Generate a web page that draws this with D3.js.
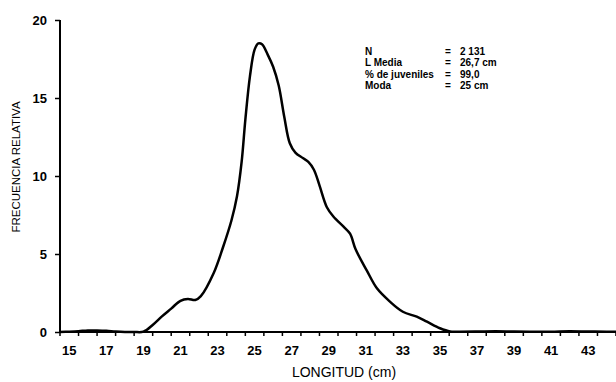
<!DOCTYPE html>
<html>
<head>
<meta charset="utf-8">
<script src="https://cdn.jsdelivr.net/npm/d3@7"></script>
<style>
  html, body { margin: 0; padding: 0; background: #fff; }
  svg { display: block; }
  text { font-family: "Liberation Sans", Arial, Helvetica, sans-serif; fill: #000; }
</style>
</head>
<body>
<svg id="chart" width="616" height="382"></svg>
<script>
// ---- data ----
const lengths = [14.5,15,15.5,16,16.5,17,17.5,18,18.5,19,19.5,20,20.5,21,21.4,21.8,22.1,22.8,23.3,23.75,24.05,24.3,24.5,24.75,25,25.2,25.4,25.7,26,26.3,26.6,26.9,27.2,27.6,27.9,28.2,28.5,28.9,29.25,29.8,30.15,30.45,31.05,31.6,32.3,33,33.75,34.3,35,35.55,36,37,38,39,40,41,42,43,44,44.5];
const freqs   = [0,0.02,0.05,0.1,0.1,0.08,0.03,0,0,0.02,0.45,1.0,1.5,2.0,2.12,2.05,2.3,3.8,5.45,7.15,8.7,10.9,13.6,16.4,18.1,18.5,18.45,17.8,17.0,15.8,13.8,12.1,11.5,11.15,10.9,10.4,9.4,8.0,7.4,6.75,6.3,5.3,3.95,2.8,1.95,1.3,0.98,0.66,0.24,0.03,0.02,0.03,0.05,0.03,0.02,0.02,0.05,0.03,0.02,0.02];
const xTickLabels = [15,17,19,21,23,25,27,29,31,33,35,37,39,41,43];
const yTickLabels = [0,5,10,15,20];
const legendKeys = ["N","L Media","% de juveniles","Moda"];
const legendVals = ["2 131","26,7 cm","99,0","25 cm"];

const svg = d3.select("#chart");
const x = d3.scaleLinear().domain([14.5, 44.5]).range([60, 616]);
const y = d3.scaleLinear().domain([0, 20]).range([332, 20]);

// y axis
const yAxis = d3.axisLeft(y).tickValues(yTickLabels).tickSize(5).tickPadding(8);
const gy = svg.append("g").attr("transform", "translate(60,0)").call(yAxis);
gy.select(".domain").attr("stroke", "#000").attr("stroke-width", 2).attr("d", "M0," + y(20) + "V" + y(0));
gy.selectAll(".tick line").attr("stroke", "#000").attr("stroke-width", 1.5);
gy.selectAll(".tick text").style("font-size", "13px").style("font-weight", "bold");

// x axis: ticks at half units, labels at odd integers
const tickPos = d3.range(14.5, 44.6, 1);
const xAxisG = svg.append("g").attr("transform", "translate(0," + y(0) + ")");
xAxisG.append("path").attr("d", "M" + x(14.5) + ",0H" + x(44.5)).attr("stroke", "#000").attr("stroke-width", 2);
xAxisG.selectAll("line.tk").data(tickPos).enter().append("line")
  .attr("class", "tk")
  .attr("x1", d => x(d)).attr("x2", d => x(d))
  .attr("y1", 0).attr("y2", 4)
  .attr("stroke", "#000").attr("stroke-width", 1.5);
xAxisG.selectAll("text.lb").data(xTickLabels).enter().append("text")
  .attr("class", "lb")
  .attr("x", d => x(d)).attr("y", 23)
  .attr("text-anchor", "middle")
  .style("font-size", "13px").style("font-weight", "bold")
  .text(d => d);

// axis titles
svg.append("text")
  .attr("x", 344).attr("y", 377)
  .attr("text-anchor", "middle")
  .style("font-size", "14px")
  .text("LONGITUD (cm)");
svg.append("text")
  .attr("transform", "translate(20,167) rotate(-90)")
  .attr("text-anchor", "middle")
  .style("font-size", "11.5px")
  .text("FRECUENCIA RELATIVA");

// curve
const line = d3.line()
  .x((d, i) => x(lengths[i]))
  .y(d => y(Math.max(0, d)))
  .curve(d3.curveCatmullRom.alpha(0.5));
svg.append("path")
  .datum(freqs)
  .attr("d", line)
  .attr("fill", "none")
  .attr("stroke", "#000")
  .attr("stroke-width", 2.5)
  .attr("stroke-linejoin", "round");

// legend
const lg = svg.append("g");
legendKeys.forEach((k, i) => {
  const yy = 55 + i * 11.3;
  lg.append("text").attr("x", 365).attr("y", yy)
    .style("font-size", "10px").style("font-weight", "bold").text(k);
  lg.append("text").attr("x", 445).attr("y", yy)
    .style("font-size", "10px").style("font-weight", "bold").text("=");
  lg.append("text").attr("x", 460).attr("y", yy)
    .style("font-size", "10px").style("font-weight", "bold").text(legendVals[i]);
});
</script>
</body>
</html>
